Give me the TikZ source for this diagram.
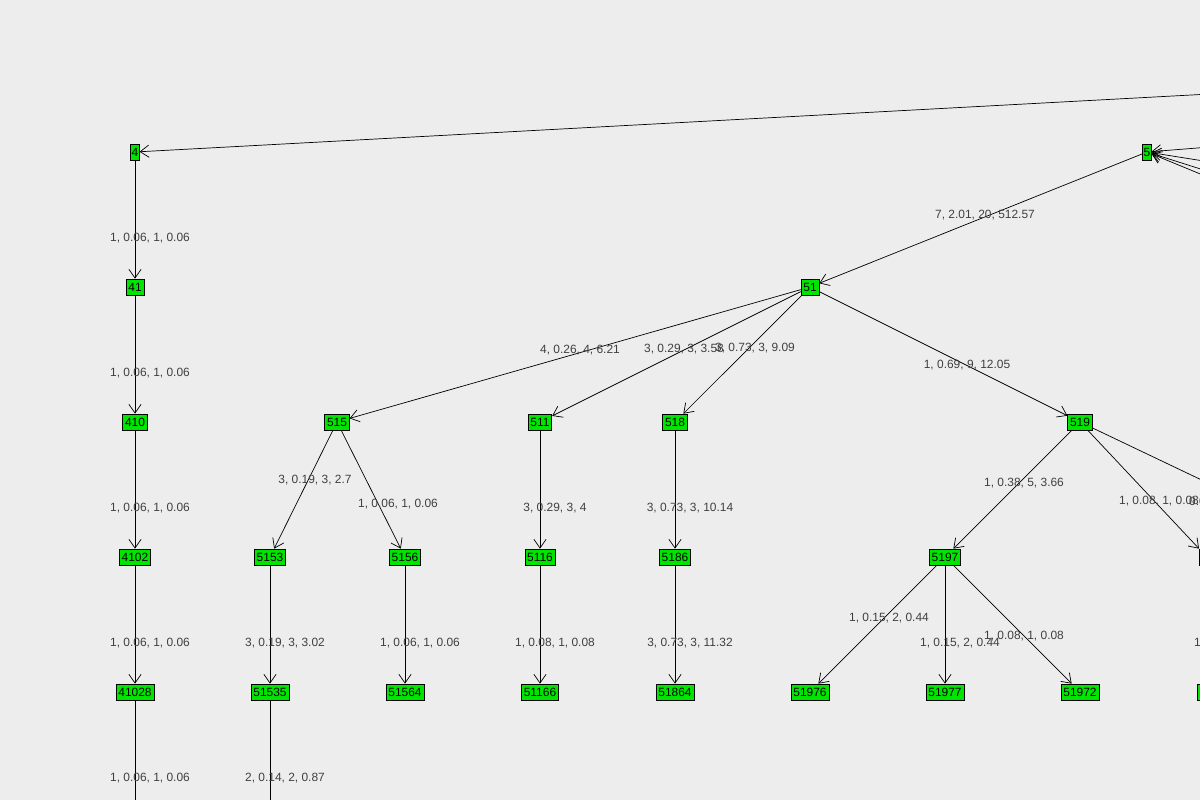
\documentclass[tikz,border=0pt]{standalone}
\usepackage{fontspec}
\setmainfont{Liberation Sans}
\usetikzlibrary{arrows.meta}
\begin{document}
\begin{tikzpicture}[x=0.02cm,y=-0.02cm,
 nd/.style={draw=black,fill=green!90!black,inner sep=1.3pt,minimum height=16*0.02cm,font=\fontsize{6.8}{7}\selectfont},
 lab/.style={font=\fontsize{6.8}{7}\selectfont,text=black!75},
 ed/.style={-{Straight Barb[length=5pt,width=7pt]},black}]
\fill[black!7] (0,0) rectangle (1200,800);
\clip (0,0) rectangle (1200,800);
\node[nd,inner xsep=0.5pt] (n4) at (135,152) {4};
\node[nd] (n41) at (135,287) {41};
\node[nd] (n410) at (135,422) {410};
\node[nd] (n4102) at (135,557) {4102};
\node[nd] (n41028) at (135,692) {41028};
\node[nd,inner xsep=0.5pt] (n5) at (1147,152) {5};
\node[nd] (n51) at (810,287) {51};
\node[nd] (n515) at (337,422) {515};
\node[nd] (n511) at (540,422) {511};
\node[nd] (n518) at (675,422) {518};
\node[nd] (n519) at (1080,422) {519};
\node[nd] (n5153) at (270,557) {5153};
\node[nd] (n5156) at (405,557) {5156};
\node[nd] (n5116) at (540,557) {5116};
\node[nd] (n5186) at (675,557) {5186};
\node[nd] (n5197) at (945,557) {5197};
\node[nd,anchor=west] (nx) at (1199,557) {5195};
\node[nd] (n51535) at (270,692) {51535};
\node[nd] (n51564) at (405,692) {51564};
\node[nd] (n51166) at (540,692) {51166};
\node[nd] (n51864) at (675,692) {51864};
\node[nd] (n51976) at (810,692) {51976};
\node[nd] (n51977) at (945,692) {51977};
\node[nd] (n51972) at (1080,692) {51972};
\node[nd,anchor=west] (ny) at (1197,692) {51951};
\coordinate (a) at (1210,94);
\coordinate (b1) at (1210,147);
\coordinate (b2) at (1210,162);
\coordinate (b3) at (1210,172);
\coordinate (b4) at (1210,178);
\coordinate (c) at (1210,484);
\coordinate (d1) at (135,810);
\coordinate (d2) at (270,810);
\draw[ed] (a) -- (n4);
\foreach \p in {b1,b2,b3,b4} \draw[ed] (\p) -- (n5);
\draw[ed] (n5) -- (n51);
\draw[ed] (n4) -- (n41);
\draw[ed] (n41) -- (n410);
\draw[ed] (n410) -- (n4102);
\draw[ed] (n4102) -- (n41028);
\draw (n41028) -- (d1);
\draw[ed] (n51) -- (n515);
\draw[ed] (n51) -- (n511);
\draw[ed] (n51) -- (n518);
\draw[ed] (n51) -- (n519);
\draw[ed] (n515) -- (n5153);
\draw[ed] (n515) -- (n5156);
\draw[ed] (n511) -- (n5116);
\draw[ed] (n518) -- (n5186);
\draw[ed] (n519) -- (n5197);
\draw[ed] (n519) -- (nx.north west);
\draw (n519) -- (c);
\draw[ed] (n5153) -- (n51535);
\draw (n51535) -- (d2);
\draw[ed] (n5156) -- (n51564);
\draw[ed] (n5116) -- (n51166);
\draw[ed] (n5186) -- (n51864);
\draw[ed] (n5197) -- (n51976);
\draw[ed] (n5197) -- (n51977);
\draw[ed] (n5197) -- (n51972);
\node[lab] at (150,238) {1, 0.06, 1, 0.06};
\node[lab] at (150,373) {1, 0.06, 1, 0.06};
\node[lab] at (150,508) {1, 0.06, 1, 0.06};
\node[lab] at (150,643) {1, 0.06, 1, 0.06};
\node[lab] at (150,778) {1, 0.06, 1, 0.06};
\node[lab] at (985,215) {7, 2.01, 20, 512.57};
\node[lab] at (580,350) {4, 0.26, 4, 6.21};
\node[lab] at (684,349) {3, 0.29, 3, 3.58};
\node[lab] at (755,348) {3, 0.73, 3, 9.09};
\node[lab] at (967,365) {1, 0.69, 9, 12.05};
\node[lab] at (315,480) {3, 0.19, 3, 2.7};
\node[lab] at (398,504) {1, 0.06, 1, 0.06};
\node[lab] at (555,508) {3, 0.29, 3, 4};
\node[lab] at (690,508) {3, 0.73, 3, 10.14};
\node[lab] at (1024,483) {1, 0.38, 5, 3.66};
\node[lab] at (1159,501) {1, 0.08, 1, 0.08};
\node[lab,anchor=west] at (1183,501) {0.08};
\node[lab] at (285,643) {3, 0.19, 3, 3.02};
\node[lab] at (420,643) {1, 0.06, 1, 0.06};
\node[lab] at (555,643) {1, 0.08, 1, 0.08};
\node[lab] at (690,643) {3, 0.73, 3, 11.32};
\node[lab] at (889,618) {1, 0.15, 2, 0.44};
\node[lab] at (960,643) {1, 0.15, 2, 0.44};
\node[lab] at (1024,636) {1, 0.08, 1, 0.08};
\node[lab,anchor=west] at (1188,643) {1, 0.08, 1, 0.08};
\node[lab] at (285,778) {2, 0.14, 2, 0.87};
\end{tikzpicture}
\end{document}
